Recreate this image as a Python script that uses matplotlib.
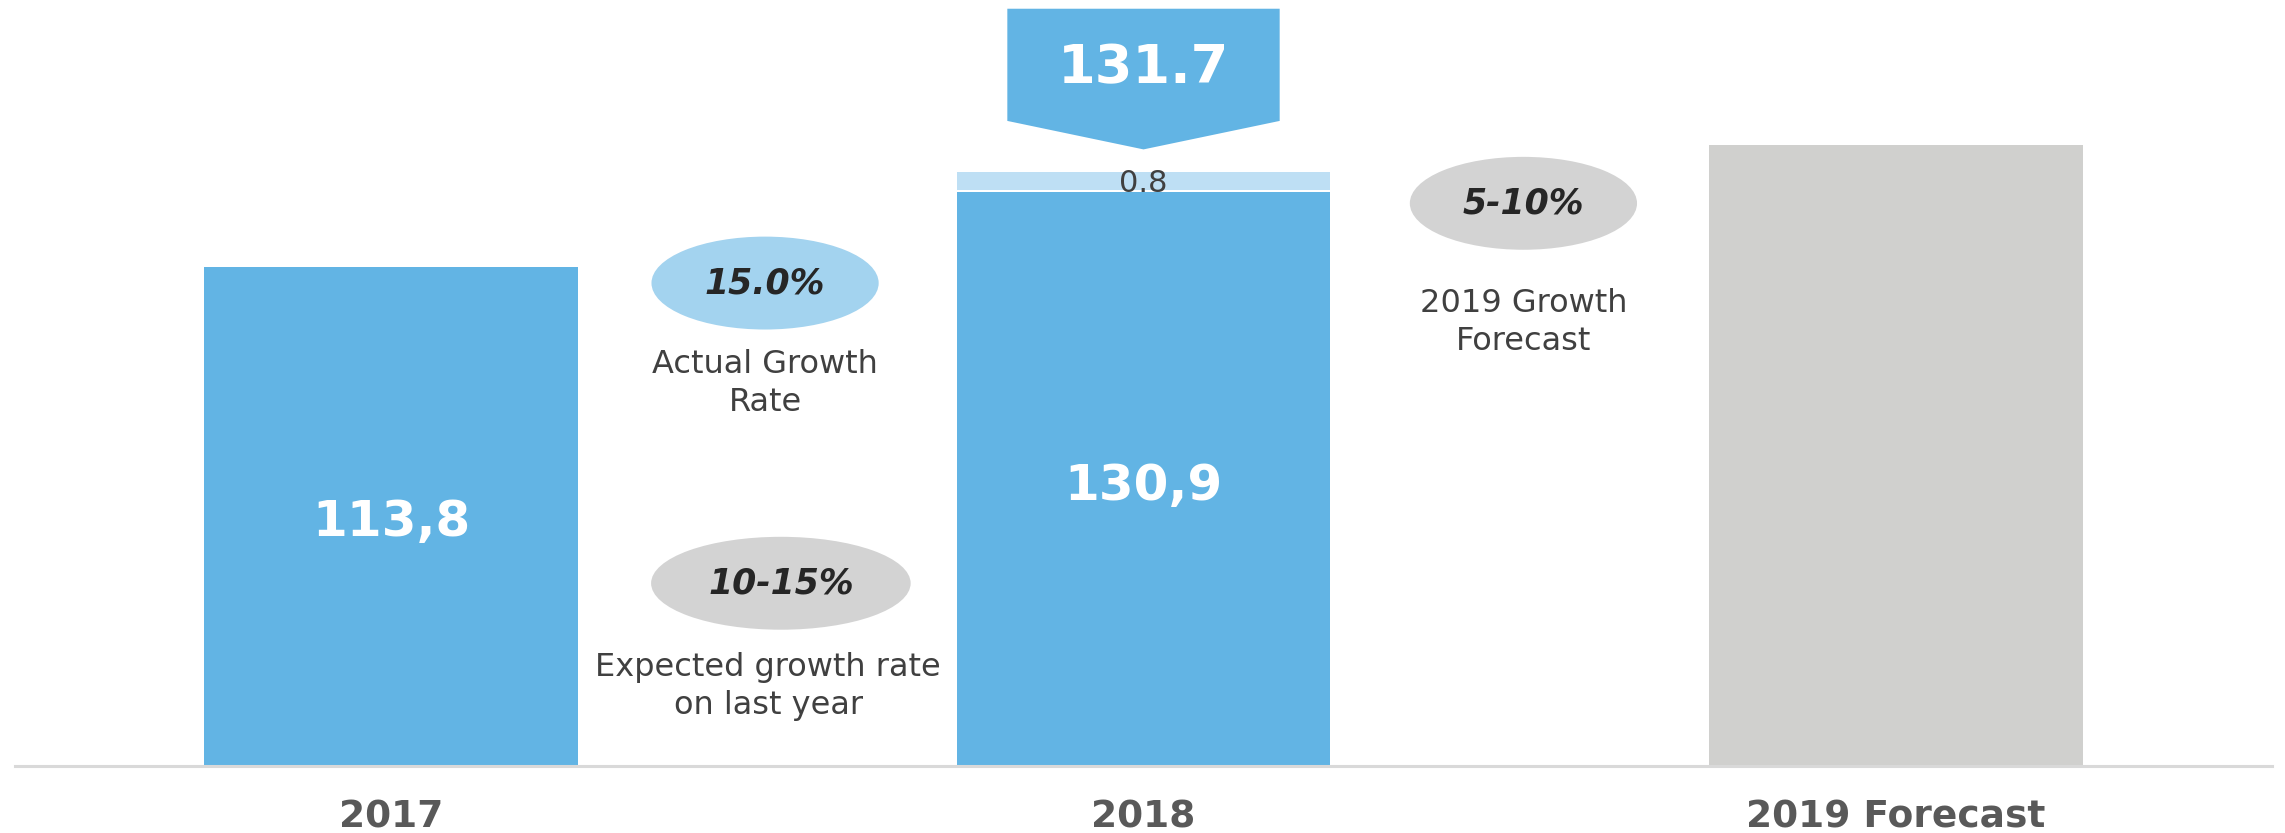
import matplotlib
matplotlib.use("Agg")
import matplotlib.pyplot as plt
from matplotlib.patches import Ellipse, Polygon

# ---- data ----
categories = ["2017", "2018", "2019 Forecast"]
base_values = [113.8, 130.9, 141.6]
base_labels = ["113,8", "130,9", ""]
increment_2018 = 0.8
total_2018 = 131.7
growth_labels = ["15.0%", "10-15%", "5-10%"]
growth_texts = ["Actual Growth\nRate", "Expected growth rate\non last year", "2019 Growth\nForecast"]

BLUE = "#62B4E4"
LIGHT_BLUE = "#BEDFF4"
ELL_BLUE = "#A3D3EF"
GRAY_BAR = "#D0D0CE"
GRAY_ELL = "#D3D3D3"
TXT = "#404040"
DARK = "#262626"

plt.rcParams['font.family'] = ['DejaVu Sans']

fig = plt.figure(figsize=(22.85, 8.33), dpi=100)
ax = fig.add_axes([15/2285, 67/833, (2272-15)/2285, (766-21)/833])
ax.set_xlim(-0.5, 2.5)
ax.set_ylim(0, 170)

x = list(range(len(categories)))
colors = [BLUE, BLUE, GRAY_BAR]
ax.bar(x, base_values, width=0.497, color=colors, edgecolor="none", zorder=2)

# 2018 increment segment (visually exaggerated as in the reference)
seg_bottom = base_values[1] + 0.6
seg_height = max(increment_2018, 4.1)
ax.bar([1], [seg_height], bottom=[seg_bottom], width=0.497, color=LIGHT_BLUE,
       edgecolor="none", zorder=2)
ax.text(1, seg_bottom + seg_height * 0.32, f"{increment_2018}", ha="center", va="center",
        fontsize=22, color=TXT, zorder=4)

# value labels inside bars
label_y = [55.7, 63.9]
for i, lab in enumerate(base_labels):
    if lab:
        ax.text(i, label_y[i], lab, ha="center", va="center", fontsize=36,
                fontweight="bold", color="white", zorder=4)

# callout arrow with total
half_w = 0.181
tip = total_2018 + 9.0
rect_bottom = total_2018 + 15.5
top = total_2018 + 41.1
poly = Polygon([(1 - half_w, top), (1 + half_w, top), (1 + half_w, rect_bottom),
                (1, tip), (1 - half_w, rect_bottom)], closed=True,
               facecolor=BLUE, edgecolor="none", zorder=3, clip_on=False)
ax.add_patch(poly)
ax.text(1, total_2018 + 27.6, f"{total_2018}", ha="center", va="center", fontsize=39,
        fontweight="bold", color="white", zorder=4)

# growth ellipses
ell_x = [0.497, 0.518, 1.505]
ell_y = [110.2, 41.7, 128.4]
ell_w = [0.302, 0.345, 0.302]
ell_c = [ELL_BLUE, GRAY_ELL, GRAY_ELL]
txt_y = [87.3, 18.2, 101.2]
for i in range(3):
    ax.add_patch(Ellipse((ell_x[i], ell_y[i]), ell_w[i], 21.2, facecolor=ell_c[i],
                         edgecolor="none", zorder=3))
    ax.text(ell_x[i], ell_y[i], growth_labels[i], ha="center", va="center", fontsize=25,
            fontweight="bold", fontstyle="italic", color=DARK, zorder=4)
tx = [0.497, 0.501, 1.505]
for i in range(3):
    ax.text(tx[i], txt_y[i], growth_texts[i], ha="center", va="center", fontsize=23,
            color=TXT, linespacing=1.3, zorder=4)

# axes styling
for s in ["top", "right", "left"]:
    ax.spines[s].set_visible(False)
ax.spines["bottom"].set_color("#D9D9D9")
ax.spines["bottom"].set_linewidth(2.2)
ax.set_yticks([])
ax.set_xticks(x)
ax.set_xticklabels(categories, fontsize=27, fontweight="bold", color="#595959")
ax.tick_params(axis="x", length=0, pad=24)

fig.savefig("out.png", dpi=100, facecolor="white")
